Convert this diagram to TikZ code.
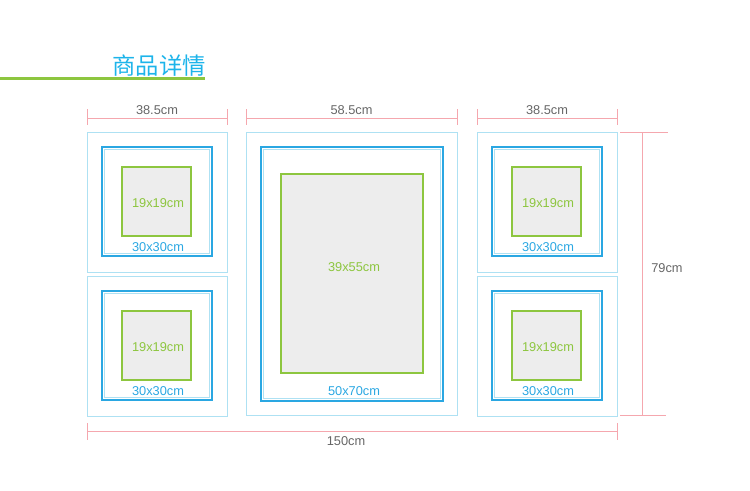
\documentclass[tikz,border=0pt]{standalone}
\usepackage{fontspec}
\setmainfont{Liberation Sans}
\newfontfamily\cjk{Noto Sans CJK SC}
\usepackage{tikz}
\usetikzlibrary{calc}

\definecolor{dimline}{HTML}{F5A7AE}
\definecolor{mattline}{HTML}{AEE1F3}
\definecolor{framecol}{HTML}{2AA7E2}
\definecolor{photocol}{HTML}{8DC63F}
\definecolor{titlecol}{HTML}{1DB4EA}
\definecolor{labelgray}{HTML}{666666}

\tikzset{
  dim/.style={dimline,line width=0.75pt},
  dimtext/.style={labelgray,font=\fontsize{9.6}{10}\selectfont,inner sep=0pt},
  matt/.style={mattline,line width=0.75pt},
  frameline/.style={framecol,line width=1.2pt},
  frameinner/.style={mattline,line width=0.6pt},
  photo/.style={photocol,line width=1.1pt,fill=black!7},
  photolabel/.style={photocol,font=\fontsize{9.6}{10}\selectfont,inner sep=0pt},
  framelabel/.style={framecol,font=\fontsize{9.6}{10}\selectfont,inner sep=0pt}
}

\begin{document}
\begin{tikzpicture}[x=0.75pt,y=-0.75pt]
\useasboundingbox (0,0) rectangle (750,490);

% title
\node[titlecol,font=\cjk\fontsize{17.5}{18}\selectfont,inner sep=0pt] (title) at (159,66) {商品详情};
\draw[photocol,line width=2.2pt] (0,78.5) -- (205,78.5);

% small frames 30x30
\foreach \x/\y/\n in {87/132/a,87/276/b,477/132/c,477/276/d}{
  \draw[matt] (\x,\y) rectangle ++(140,140);
  \draw[frameline] (\x+15,\y+15) rectangle ++(110,109);
  \draw[frameinner] (\x+17.5,\y+17.5) rectangle ++(105,104);
  \draw[photo] (\x+35,\y+35) rectangle ++(69,69);
  \node[photolabel] (photo\n) at (\x+71,\y+71) {19x19cm};
  \node[framelabel] (frame\n) at (\x+71,\y+115) {30x30cm};
}

% big frame 50x70
\draw[matt] (246,132) rectangle (457,415);
\draw[frameline] (261,147) rectangle (443,401);
\draw[frameinner] (263.5,149.5) rectangle (440.5,398.5);
\draw[photo] (281,174) rectangle (423,373);
\node[photolabel] (photoe) at (354,267) {39x55cm};
\node[framelabel] (framee) at (354,391) {50x70cm};

% dimensions on top
\foreach \l/\r/\t/\n in {87/227/38.5cm/left,246/457/58.5cm/mid,477/617/38.5cm/right}{
  \coordinate (\n a) at (\l,118);
  \coordinate (\n b) at (\r,118);
  \draw[dim] (\n a) -- (\n b);
  \draw[dim] ($(\n a)+(0,-9)$) -- ($(\n a)+(0,7)$);
  \draw[dim] ($(\n b)+(0,-9)$) -- ($(\n b)+(0,7)$);
  \node[dimtext] (w\n) at ($(\n a)!0.5!(\n b)+(0,-8)$) {\t};
}

% height
\coordinate (htop) at (642,132);
\coordinate (hbot) at (642,415);
\draw[dim] (htop) -- (hbot);
\draw[dim] (620,132) -- (668,132);
\draw[dim] (620,415) -- (666,415);
\node[dimtext] (height) at (667,268) {79cm};

% total width
\coordinate (wl) at (87,431);
\coordinate (wr) at (617,431);
\draw[dim] (wl) -- (wr);
\draw[dim] (87,423) -- (87,440);
\draw[dim] (617,423) -- (617,440);
\node[dimtext] (total) at (346,441) {150cm};
\end{tikzpicture}
\end{document}
